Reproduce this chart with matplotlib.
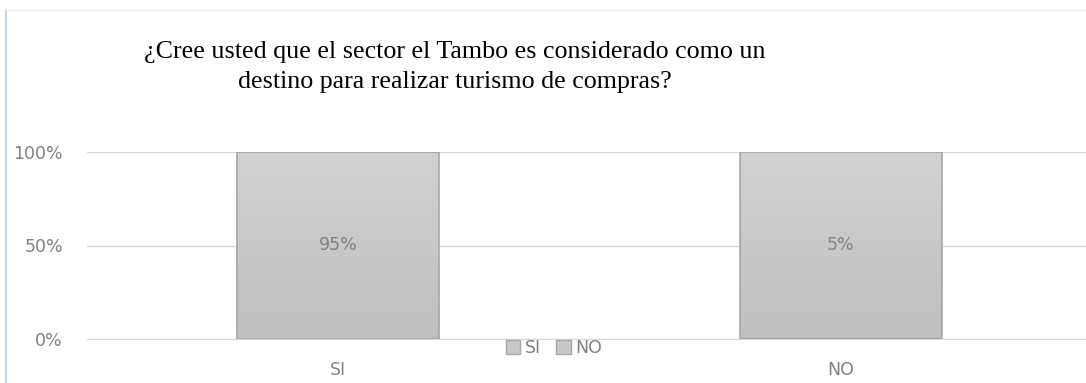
import matplotlib
matplotlib.use("Agg")
import matplotlib.pyplot as plt
import numpy as np
from matplotlib.colors import LinearSegmentedColormap
from matplotlib.patches import Patch
from matplotlib.lines import Line2D

# Data
categories = ["SI", "NO"]
series_names = ["SI", "NO"]
series_si = [95, 0]
series_no = [0, 5]
title_lines = ["¿Cree usted que el sector el Tambo es considerado como un",
               "destino para realizar turismo de compras?"]

W, H = 1086, 383
fig = plt.figure(figsize=(W / 100, H / 100), dpi=100)
fig.patch.set_facecolor("white")

# axes geometry (pixels)
left_px, right_px = 86.5, 1092.5
bottom_px, top_px = H - 339, H - 152
ax = fig.add_axes([left_px / W, bottom_px / H, (right_px - left_px) / W, (top_px - bottom_px) / H])

gray_text = "#808080"
grid_col = "#d9d9d9"
sans = "DejaVu Sans"

x = np.arange(len(categories))
raw = np.array([series_si, series_no], dtype=float)
totals = raw.sum(axis=0)
pct = raw / totals * 100

cmap = LinearSegmentedColormap.from_list("g", ["#bfbfbf", "#d2d2d2"])
grad = np.linspace(0, 1, 256).reshape(-1, 1)
bar_w = 0.4
bottoms = np.zeros(len(categories))
for s in range(len(series_names)):
    bars = ax.bar(x, pct[s], bottom=bottoms, width=bar_w, color="none",
                  edgecolor="#a6a6a6", linewidth=1.2, zorder=3)
    for i, b in enumerate(bars):
        if pct[s][i] <= 0:
            continue
        x0, y0 = b.get_x(), b.get_y()
        ax.imshow(grad, extent=[x0, x0 + b.get_width(), y0, y0 + b.get_height()],
                  origin="lower", cmap=cmap, aspect="auto", zorder=2)
        ax.text(x[i], y0 + b.get_height() / 2, f"{raw[s][i]:.0f}%", ha="center", va="center",
                color=gray_text, fontsize=12.5, family=sans, zorder=4)
    bottoms = bottoms + pct[s]

ax.set_xlim(-0.5, len(categories) - 0.5)
ax.set_ylim(0, 100)
ax.set_yticks([0, 50, 100])
ax.set_yticklabels(["0%", "50%", "100%"])
ax.set_xticks(x)
ax.set_xticklabels(categories)
ax.grid(axis="y", color=grid_col, linewidth=1.0, zorder=0)
ax.set_axisbelow(True)
for sp in ax.spines.values():
    sp.set_visible(False)
ax.spines["bottom"].set_visible(True)
ax.spines["bottom"].set_color(grid_col)
ax.tick_params(axis="both", length=0, labelsize=12.5, labelcolor=gray_text)
ax.tick_params(axis="y", pad=17)
ax.tick_params(axis="x", pad=15.5)
for lab in ax.get_xticklabels() + ax.get_yticklabels():
    lab.set_family(sans)

# Title (two lines, baselines matched to reference)
for line, base in zip(title_lines, [58, 88]):
    fig.text(455 / W, 1 - base / H, line, ha="center", va="baseline", fontsize=18.7,
             family="Liberation Serif", color="#000000")

# Legend
handles = [Patch(facecolor="#c8c8c8", edgecolor="#a6a6a6", label=n) for n in series_names]
leg = fig.legend(handles=handles, loc="center", bbox_to_anchor=(554 / W, 1 - 348 / H), ncol=2,
                 frameon=False, handlelength=0.85, handleheight=0.85, handletextpad=0.25,
                 columnspacing=0.9, borderpad=0.1, prop={"family": sans, "size": 12.5})
for t in leg.get_texts():
    t.set_color(gray_text)

# Chart border hints
fig.add_artist(Line2D([6 / W, 6 / W], [0, 1 - 10 / H], color="#bdd7ee", linewidth=1.5))
fig.add_artist(Line2D([6 / W, 1], [1 - 10 / H, 1 - 10 / H], color="#f2f2f2", linewidth=1.0))

fig.savefig("out.png", dpi=100, facecolor="white")
